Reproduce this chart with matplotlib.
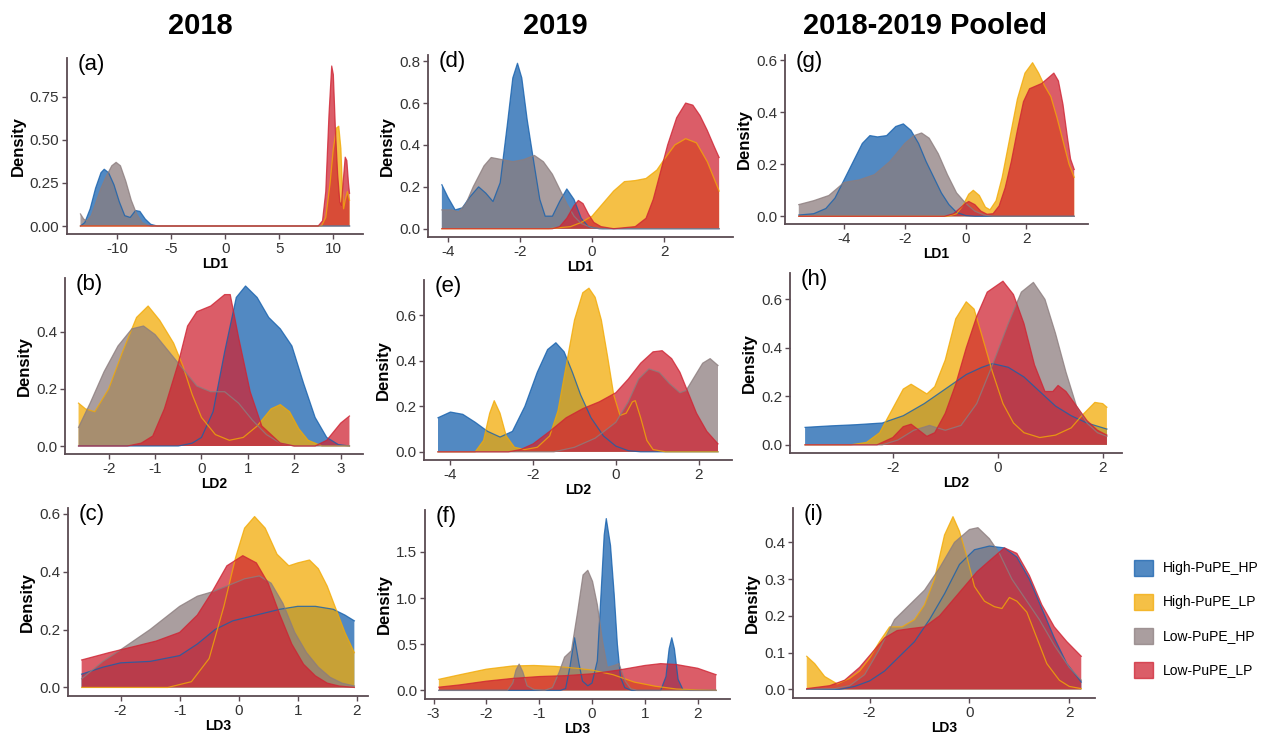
import matplotlib
matplotlib.use("Agg")
import matplotlib.pyplot as plt
from matplotlib.patches import Patch

plt.rcParams['font.family'] = ['Liberation Sans', 'DejaVu Sans']

# ---------------- data ----------------
groups = ["High-PuPE_HP", "High-PuPE_LP", "Low-PuPE_HP", "Low-PuPE_LP"]
colors = ["#1560ad", "#f2aa05", "#8c7d7e", "#cf2433"]
col_titles = ["2018", "2019", "2018-2019 Pooled"]
panel_tags = ["(a)", "(b)", "(c)", "(d)", "(e)", "(f)", "(g)", "(h)", "(i)"]
x_labels = ["LD1", "LD2", "LD3", "LD1", "LD2", "LD3", "LD1", "LD2", "LD3"]

# (a) 2018 LD1
a_high_hp = [(-13.4,0.0),(-13.0,0.02),(-12.5,0.1),(-12.0,0.22),(-11.5,0.31),(-11.2,0.33),(-10.8,0.31),(-10.3,0.24),(-9.8,0.14),(-9.3,0.06),(-8.8,0.05),(-8.3,0.09),(-7.9,0.085),(-7.4,0.04),(-6.9,0.01),(-6.3,0.0),(11.5,0.0)]
a_high_lp = [(-13.4,0.0),(8.9,0.0),(9.3,0.05),(9.7,0.25),(10.0,0.45),(10.3,0.57),(10.5,0.58),(10.7,0.45),(10.85,0.2),(10.95,0.1),(11.1,0.15),(11.3,0.2),(11.5,0.15)]
a_low_hp = [(-13.4,0.07),(-13.1,0.04),(-12.8,0.03),(-12.4,0.06),(-12.0,0.13),(-11.5,0.22),(-11.0,0.29),(-10.5,0.35),(-10.1,0.37),(-9.7,0.35),(-9.2,0.26),(-8.7,0.15),(-8.2,0.07),(-7.7,0.02),(-7.2,0.005),(-6.8,0.0),(11.5,0.0)]
a_low_lp = [(-13.4,0.0),(8.6,0.0),(9.0,0.03),(9.3,0.2),(9.6,0.65),(9.85,0.93),(10.0,0.88),(10.2,0.55),(10.4,0.3),(10.6,0.14),(10.75,0.12),(10.9,0.25),(11.1,0.4),(11.25,0.38),(11.4,0.25),(11.5,0.19)]

# (b) 2018 LD2
b_high_hp = [(-2.65,0.0),(-0.5,0.0),(-0.2,0.01),(0.0,0.03),(0.25,0.12),(0.5,0.33),(0.75,0.52),(0.95,0.56),(1.2,0.52),(1.45,0.45),(1.7,0.41),(1.95,0.35),(2.2,0.22),(2.45,0.1),(2.7,0.03),(2.95,0.005),(3.19,0.0)]
b_high_lp = [(-2.65,0.15),(-2.5,0.13),(-2.3,0.12),(-2.0,0.2),(-1.7,0.33),(-1.4,0.45),(-1.15,0.49),(-0.9,0.44),(-0.6,0.36),(-0.4,0.28),(-0.2,0.18),(0.0,0.1),(0.3,0.04),(0.6,0.02),(0.9,0.03),(1.2,0.07),(1.5,0.13),(1.7,0.145),(1.9,0.12),(2.1,0.06),(2.3,0.02),(2.6,0.0),(3.19,0.0)]
b_low_hp = [(-2.65,0.065),(-2.4,0.15),(-2.1,0.26),(-1.8,0.35),(-1.5,0.41),(-1.25,0.42),(-1.0,0.39),(-0.7,0.33),(-0.4,0.27),(-0.1,0.21),(0.2,0.19),(0.5,0.19),(0.8,0.15),(1.1,0.09),(1.4,0.04),(1.7,0.01),(2.0,0.0),(3.19,0.0)]
b_low_lp = [(-2.65,0.0),(-1.6,0.0),(-1.3,0.01),(-1.05,0.035),(-0.8,0.13),(-0.5,0.29),(-0.3,0.42),(-0.1,0.47),(0.2,0.49),(0.5,0.53),(0.62,0.53),(0.8,0.38),(1.05,0.19),(1.3,0.07),(1.7,0.01),(2.0,0.0),(2.45,0.0),(2.7,0.02),(3.0,0.08),(3.19,0.105)]

# (c) 2018 LD3
c_high_hp = [(-2.66,0.046),(-2.3,0.07),(-2.0,0.085),(-1.5,0.09),(-1.0,0.11),(-0.7,0.15),(-0.4,0.2),(-0.1,0.23),(0.3,0.25),(0.7,0.27),(1.0,0.28),(1.3,0.28),(1.6,0.27),(1.8,0.25),(1.96,0.23)]
c_high_lp = [(-2.66,0.0),(-1.2,0.0),(-0.8,0.02),(-0.5,0.1),(-0.25,0.28),(-0.05,0.45),(0.1,0.55),(0.27,0.59),(0.45,0.55),(0.65,0.46),(0.85,0.42),(1.0,0.43),(1.2,0.44),(1.35,0.41),(1.5,0.35),(1.65,0.27),(1.8,0.19),(1.96,0.12)]
c_low_hp = [(-2.66,0.03),(-2.3,0.09),(-2.0,0.13),(-1.5,0.2),(-1.0,0.28),(-0.7,0.315),(-0.45,0.33),(-0.2,0.35),(0.1,0.375),(0.35,0.385),(0.55,0.36),(0.75,0.29),(0.95,0.19),(1.15,0.12),(1.35,0.07),(1.55,0.035),(1.75,0.015),(1.96,0.005)]
c_low_lp = [(-2.66,0.095),(-2.2,0.12),(-1.8,0.14),(-1.4,0.16),(-1.0,0.19),(-0.7,0.25),(-0.45,0.33),(-0.2,0.42),(0.07,0.455),(0.3,0.43),(0.5,0.36),(0.7,0.25),(0.9,0.15),(1.1,0.08),(1.3,0.04),(1.5,0.015),(1.7,0.005),(1.96,0.0)]

# (d) 2019 LD1
d_high_hp = [(-4.17,0.21),(-4.0,0.15),(-3.8,0.09),(-3.6,0.1),(-3.4,0.15),(-3.15,0.2),(-2.95,0.17),(-2.75,0.13),(-2.55,0.22),(-2.35,0.5),(-2.2,0.72),(-2.07,0.79),(-1.95,0.72),(-1.8,0.52),(-1.6,0.3),(-1.45,0.14),(-1.3,0.06),(-1.1,0.06),(-0.9,0.13),(-0.7,0.19),(-0.5,0.14),(-0.3,0.05),(-0.1,0.01),(0.2,0.0),(3.53,0.0)]
d_high_lp = [(-4.17,0.0),(-1.2,0.0),(-0.6,0.01),(-0.3,0.03),(0.0,0.06),(0.3,0.12),(0.6,0.18),(0.9,0.225),(1.2,0.23),(1.5,0.24),(1.8,0.28),(2.0,0.33),(2.3,0.4),(2.6,0.43),(2.9,0.41),(3.2,0.32),(3.53,0.18)]
d_low_hp = [(-4.17,0.09),(-3.9,0.09),(-3.7,0.08),(-3.5,0.12),(-3.3,0.2),(-3.0,0.3),(-2.8,0.34),(-2.5,0.33),(-2.2,0.32),(-1.9,0.33),(-1.6,0.35),(-1.35,0.32),(-1.1,0.26),(-0.9,0.19),(-0.7,0.12),(-0.5,0.06),(-0.3,0.025),(0.0,0.005),(0.3,0.0),(3.53,0.0)]
d_low_lp = [(-4.17,0.0),(-1.1,0.0),(-0.9,0.01),(-0.7,0.05),(-0.5,0.11),(-0.38,0.135),(-0.25,0.12),(-0.1,0.07),(0.05,0.03),(0.25,0.01),(0.6,0.0),(1.2,0.01),(1.5,0.05),(1.7,0.14),(1.9,0.27),(2.1,0.4),(2.35,0.53),(2.6,0.6),(2.8,0.59),(3.0,0.54),(3.2,0.47),(3.4,0.39),(3.53,0.34)]

# (e) 2019 LD2
e_high_hp = [(-4.3,0.15),(-4.0,0.175),(-3.7,0.165),(-3.4,0.13),(-3.1,0.09),(-2.8,0.065),(-2.5,0.09),(-2.2,0.2),(-1.9,0.35),(-1.65,0.45),(-1.45,0.48),(-1.25,0.44),(-1.05,0.35),(-0.85,0.25),(-0.6,0.15),(-0.3,0.07),(0.0,0.025),(0.3,0.005),(0.6,0.0),(2.47,0.0)]
e_high_lp = [(-4.3,0.0),(-3.4,0.0),(-3.2,0.05),(-3.05,0.17),(-2.94,0.225),(-2.8,0.17),(-2.65,0.07),(-2.45,0.02),(-2.2,0.01),(-1.9,0.02),(-1.6,0.07),(-1.4,0.18),(-1.2,0.38),(-1.0,0.58),(-0.8,0.7),(-0.65,0.72),(-0.5,0.68),(-0.35,0.58),(-0.2,0.42),(-0.05,0.25),(0.1,0.16),(0.25,0.17),(0.4,0.22),(0.47,0.225),(0.6,0.15),(0.75,0.05),(0.9,0.01),(1.2,0.0),(2.47,0.0)]
e_low_hp = [(-4.3,0.0),(-1.5,0.0),(-1.0,0.02),(-0.5,0.06),(0.0,0.13),(0.3,0.22),(0.55,0.32),(0.8,0.365),(1.05,0.35),(1.3,0.3),(1.55,0.26),(1.7,0.27),(1.9,0.33),(2.1,0.39),(2.28,0.41),(2.47,0.38)]
e_low_lp = [(-4.3,0.0),(-2.6,0.0),(-2.3,0.01),(-2.0,0.035),(-1.6,0.09),(-1.2,0.15),(-0.8,0.19),(-0.4,0.22),(0.0,0.26),(0.3,0.32),(0.6,0.39),(0.9,0.44),(1.12,0.445),(1.35,0.41),(1.55,0.35),(1.75,0.26),(1.95,0.17),(2.2,0.09),(2.47,0.035)]

# (f) 2019 LD3
f_high_hp = [(-2.9,0.0),(-0.6,0.0),(-0.5,0.02),(-0.42,0.25),(-0.33,0.57),(-0.25,0.3),(-0.18,0.1),(-0.08,0.05),(0.0,0.08),(0.05,0.2),(0.1,0.32),(0.17,1.04),(0.23,1.68),(0.27,1.86),(0.35,1.57),(0.42,1.04),(0.48,0.5),(0.54,0.14),(0.62,0.03),(0.75,0.0),(1.3,0.0),(1.4,0.15),(1.46,0.45),(1.51,0.57),(1.56,0.45),(1.63,0.12),(1.72,0.01),(1.85,0.0),(2.35,0.0)]
f_high_lp = [(-2.9,0.12),(-2.5,0.17),(-2.0,0.23),(-1.5,0.265),(-1.1,0.27),(-0.7,0.26),(-0.3,0.24),(0.0,0.22),(0.4,0.17),(0.8,0.09),(1.2,0.045),(1.6,0.015),(2.0,0.005),(2.35,0.0)]
f_low_hp = [(-2.9,0.0),(-1.6,0.0),(-1.5,0.08),(-1.44,0.22),(-1.38,0.285),(-1.31,0.2),(-1.23,0.05),(-1.1,0.01),(-0.9,0.0),(-0.75,0.03),(-0.62,0.2),(-0.52,0.36),(-0.39,0.43),(-0.27,0.86),(-0.17,1.25),(-0.08,1.3),(0.01,1.18),(0.1,0.93),(0.2,0.53),(0.29,0.25),(0.42,0.27),(0.51,0.29),(0.63,0.1),(0.73,0.02),(0.85,0.0),(2.35,0.0)]
f_low_lp = [(-2.9,0.035),(-2.5,0.06),(-2.0,0.1),(-1.5,0.13),(-1.0,0.15),(-0.5,0.16),(0.0,0.18),(0.5,0.22),(1.0,0.27),(1.3,0.29),(1.6,0.28),(2.0,0.24),(2.35,0.17)]

# (g) pooled LD1
g_high_hp = [(-5.49,0.005),(-5.0,0.01),(-4.6,0.03),(-4.3,0.07),(-4.0,0.14),(-3.7,0.21),(-3.4,0.28),(-3.15,0.31),(-2.9,0.305),(-2.6,0.31),(-2.3,0.345),(-2.05,0.355),(-1.8,0.33),(-1.55,0.28),(-1.3,0.21),(-1.05,0.15),(-0.8,0.09),(-0.55,0.045),(-0.3,0.015),(0.0,0.003),(0.3,0.0),(3.57,0.0)]
g_high_lp = [(-5.49,0.0),(-0.6,0.0),(-0.3,0.01),(-0.1,0.04),(0.1,0.085),(0.25,0.1),(0.45,0.08),(0.65,0.035),(0.8,0.025),(1.0,0.06),(1.2,0.15),(1.45,0.3),(1.7,0.45),(1.95,0.55),(2.2,0.59),(2.4,0.55),(2.6,0.5),(2.8,0.46),(3.0,0.38),(3.2,0.29),(3.4,0.2),(3.57,0.15)]
g_low_hp = [(-5.49,0.045),(-5.0,0.06),(-4.5,0.08),(-4.0,0.13),(-3.5,0.14),(-3.0,0.16),(-2.5,0.21),(-2.0,0.28),(-1.7,0.31),(-1.45,0.32),(-1.2,0.3),(-0.9,0.24),(-0.6,0.16),(-0.3,0.09),(0.0,0.05),(0.3,0.02),(0.6,0.005),(0.9,0.0),(3.57,0.0)]
g_low_lp = [(-5.49,0.0),(-0.7,0.0),(-0.4,0.01),(-0.2,0.03),(0.0,0.05),(0.1,0.057),(0.3,0.045),(0.5,0.02),(0.7,0.008),(0.9,0.01),(1.1,0.04),(1.3,0.11),(1.5,0.21),(1.7,0.33),(1.9,0.44),(2.1,0.49),(2.3,0.5),(2.5,0.51),(2.7,0.53),(2.9,0.55),(3.05,0.52),(3.2,0.43),(3.35,0.3),(3.45,0.22),(3.57,0.18)]

# (h) pooled LD2
h_high_hp = [(-3.67,0.072),(-3.2,0.078),(-2.7,0.083),(-2.2,0.09),(-1.8,0.12),(-1.4,0.17),(-1.0,0.23),(-0.6,0.29),(-0.3,0.32),(-0.1,0.335),(0.2,0.32),(0.5,0.28),(0.8,0.22),(1.1,0.16),(1.4,0.12),(1.7,0.09),(2.08,0.065)]
h_high_lp = [(-3.67,0.0),(-2.8,0.0),(-2.5,0.01),(-2.25,0.05),(-2.0,0.15),(-1.8,0.23),(-1.65,0.25),(-1.5,0.23),(-1.35,0.21),(-1.2,0.24),(-1.0,0.35),(-0.8,0.52),(-0.6,0.59),(-0.45,0.56),(-0.3,0.45),(-0.1,0.3),(0.1,0.17),(0.3,0.09),(0.5,0.05),(0.8,0.03),(1.1,0.04),(1.4,0.07),(1.6,0.12),(1.85,0.175),(2.0,0.17),(2.08,0.155)]
h_low_hp = [(-3.67,0.0),(-2.2,0.0),(-1.9,0.02),(-1.6,0.06),(-1.3,0.08),(-1.0,0.06),(-0.7,0.08),(-0.4,0.17),(-0.1,0.33),(0.2,0.5),(0.45,0.63),(0.68,0.67),(0.9,0.6),(1.1,0.46),(1.3,0.3),(1.5,0.16),(1.7,0.09),(1.9,0.05),(2.08,0.035)]
h_low_lp = [(-3.67,0.0),(-2.3,0.0),(-2.0,0.03),(-1.8,0.075),(-1.65,0.085),(-1.5,0.06),(-1.35,0.035),(-1.2,0.05),(-1.0,0.13),(-0.8,0.25),(-0.6,0.4),(-0.4,0.53),(-0.2,0.63),(0.1,0.675),(0.3,0.62),(0.5,0.5),(0.7,0.33),(0.9,0.22),(1.05,0.22),(1.15,0.245),(1.3,0.22),(1.5,0.16),(1.7,0.1),(1.9,0.06),(2.08,0.04)]

# (i) pooled LD3
i_high_hp = [(-3.26,0.0),(-2.6,0.0),(-2.3,0.008),(-2.0,0.023),(-1.7,0.05),(-1.4,0.09),(-1.1,0.13),(-0.8,0.19),(-0.5,0.26),(-0.2,0.34),(0.1,0.38),(0.4,0.39),(0.7,0.385),(0.95,0.36),(1.2,0.3),(1.45,0.22),(1.7,0.14),(1.95,0.07),(2.24,0.02)]
i_high_lp = [(-3.26,0.09),(-3.1,0.07),(-2.9,0.035),(-2.65,0.015),(-2.4,0.03),(-2.2,0.05),(-2.0,0.085),(-1.8,0.13),(-1.6,0.17),(-1.35,0.17),(-1.1,0.19),(-0.9,0.23),(-0.7,0.3),(-0.5,0.42),(-0.33,0.47),(-0.2,0.43),(-0.05,0.36),(0.1,0.28),(0.3,0.24),(0.5,0.225),(0.65,0.22),(0.8,0.25),(0.95,0.24),(1.15,0.21),(1.35,0.14),(1.55,0.07),(1.8,0.025),(2.0,0.008),(2.24,0.002)]
i_low_hp = [(-3.26,0.0),(-2.7,0.002),(-2.4,0.01),(-2.1,0.04),(-1.8,0.11),(-1.5,0.19),(-1.2,0.23),(-0.9,0.27),(-0.6,0.33),(-0.3,0.4),(0.0,0.435),(0.17,0.44),(0.4,0.41),(0.6,0.37),(0.85,0.3),(1.1,0.25),(1.4,0.19),(1.7,0.12),(2.0,0.06),(2.24,0.025)]
i_low_lp = [(-3.26,0.002),(-2.8,0.01),(-2.5,0.025),(-2.2,0.06),(-1.95,0.1),(-1.7,0.14),(-1.45,0.16),(-1.2,0.165),(-0.9,0.17),(-0.6,0.2),(-0.35,0.24),(-0.1,0.28),(0.15,0.32),(0.4,0.35),(0.7,0.385),(0.95,0.37),(1.2,0.31),(1.45,0.23),(1.7,0.17),(1.95,0.13),(2.24,0.09)]

x_ticks = [[-10, -5, 0, 5, 10], [-2, -1, 0, 1, 2, 3], [-2, -1, 0, 1, 2],
           [-4, -2, 0, 2], [-4, -2, 0, 2], [-3, -2, -1, 0, 1, 2],
           [-4, -2, 0, 2], [-2, 0, 2], [-2, 0, 2]]
y_ticks = [[0, 0.25, 0.5, 0.75], [0, 0.2, 0.4], [0, 0.2, 0.4, 0.6],
           [0, 0.2, 0.4, 0.6, 0.8], [0, 0.2, 0.4, 0.6], [0, 0.5, 1.0, 1.5],
           [0, 0.2, 0.4, 0.6], [0, 0.2, 0.4, 0.6], [0, 0.1, 0.2, 0.3, 0.4]]
y_fmt = ["%.2f", "%.1f", "%.1f", "%.1f", "%.1f", "%.1f", "%.1f", "%.1f", "%.1f"]

panels = [
    [a_high_hp, a_high_lp, a_low_hp, a_low_lp],
    [b_high_hp, b_high_lp, b_low_hp, b_low_lp],
    [c_high_hp, c_high_lp, c_low_hp, c_low_lp],
    [d_high_hp, d_high_lp, d_low_hp, d_low_lp],
    [e_high_hp, e_high_lp, e_low_hp, e_low_lp],
    [f_high_hp, f_high_lp, f_low_hp, f_low_lp],
    [g_high_hp, g_high_lp, g_low_hp, g_low_lp],
    [h_high_hp, h_high_lp, h_low_hp, h_low_lp],
    [i_high_hp, i_high_lp, i_low_hp, i_low_lp],
]

# ---------------- layout (pixel boxes: left, right, top, bottom) ----------------
W, H = 1261, 735
boxes = [(67, 363, 58, 234), (65, 363, 278, 454), (68, 368, 508, 696),
         (428, 733, 55, 237), (424, 732, 280, 460), (425, 730, 510, 699),
         (785, 1088, 55, 224), (790, 1122, 273, 453), (793, 1095, 508, 698)]
AXC = "#5a4b52"
ALPHA = 0.74

fig = plt.figure(figsize=(W / 100, H / 100), dpi=100)

for k, (curves, box) in enumerate(zip(panels, boxes)):
    L, R, T, B = box
    ax = fig.add_axes([L / W, 1 - B / H, (R - L) / W, (B - T) / H])
    xmin = min(p[0] for c in curves for p in c)
    xmax = max(p[0] for c in curves for p in c)
    ymax = max(p[1] for c in curves for p in c)
    for pts, col in zip(curves, colors):
        xs = [p[0] for p in pts]
        ys = [p[1] for p in pts]
        ax.fill_between(xs, ys, 0, facecolor=col, alpha=ALPHA, linewidth=0)
        ax.plot(xs, ys, color=col, lw=0.9, alpha=0.8, solid_joinstyle='round')
    xr = xmax - xmin
    ax.set_xlim(xmin - 0.05 * xr, xmax + 0.05 * xr)
    ax.set_ylim(-0.05 * ymax, 1.05 * ymax)
    ax.set_xticks(x_ticks[k])
    ax.set_xticklabels([str(v) for v in x_ticks[k]])
    ax.set_yticks(y_ticks[k])
    ax.set_yticklabels([y_fmt[k] % v for v in y_ticks[k]])
    for s in ("top", "right"):
        ax.spines[s].set_visible(False)
    for s in ("left", "bottom"):
        ax.spines[s].set_color(AXC)
        ax.spines[s].set_linewidth(1.3)
    ax.tick_params(axis="both", colors=AXC, length=3.5, width=1.0, pad=2,
                   labelsize=11, labelcolor="#333333")
    ax.set_xlabel(x_labels[k], fontsize=10, fontweight="bold", labelpad=1)
    ax.set_ylabel("Density", fontsize=12, fontweight="bold", labelpad=3)
    ax.annotate(panel_tags[k], xy=(0, 1), xycoords="axes fraction",
                xytext=(8, 3), textcoords="offset points",
                ha="left", va="top", fontsize=16)

# column titles
for t, xc in zip(col_titles, [200, 555, 925]):
    fig.text(xc / W, 1 - 26 / H, t, ha="center", va="center",
             fontsize=21, fontweight="bold")

handles = [Patch(facecolor=c, edgecolor=c, alpha=ALPHA, label=g)
           for c, g in zip(colors, groups)]
fig.legend(handles=handles, loc="upper left",
           bbox_to_anchor=(1128 / W, 1 - 554 / H), frameon=False,
           fontsize=10, handlelength=1.4, handleheight=1.4,
           labelspacing=1.3, handletextpad=0.7, borderaxespad=0)

fig.savefig("out.png", dpi=100)
